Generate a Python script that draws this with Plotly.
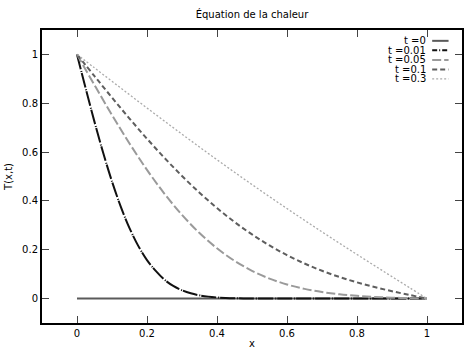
import plotly.graph_objects as go

# ---- data ----
x_main = [0, 0.05, 0.1, 0.15, 0.2, 0.25, 0.3, 0.35, 0.4, 0.45, 0.5,
          0.55, 0.6, 0.65, 0.7, 0.75, 0.8, 0.85, 0.9, 0.95, 1]
x_fine = [0, 0.025, 0.05, 0.075, 0.1, 0.125, 0.15, 0.175, 0.2, 0.225, 0.25,
          0.275, 0.3, 0.325, 0.35, 0.375, 0.4, 0.425, 0.45, 0.475, 0.5,
          0.6, 0.7, 0.8, 0.9, 1]

T_t0 = [0, 0, 0, 0, 0, 0, 0, 0, 0, 0, 0, 0, 0, 0, 0, 0, 0, 0, 0, 0, 0]
T_t001 = [1, 0.8597, 0.7237, 0.5959, 0.4795, 0.3768, 0.2888, 0.2159, 0.1573, 0.1132, 0.0771,
          0.0518, 0.0339, 0.0215, 0.0133, 0.0080, 0.0047, 0.0027, 0.0015, 0.0008, 0.0004,
          0.0, 0.0, 0.0, 0.0, 0.0]
T_t005 = [1, 0.8744, 0.7518, 0.6353, 0.5271, 0.4292, 0.3428, 0.2684, 0.2059, 0.1547, 0.1139,
          0.0820, 0.0578, 0.0398, 0.0268, 0.0176, 0.0113, 0.0069, 0.0039, 0.0018, 0]
T_t01 = [1, 0.9110, 0.8231, 0.7373, 0.6547, 0.5761, 0.5022, 0.4336, 0.3707, 0.3138, 0.2627,
         0.2176, 0.1780, 0.1436, 0.1139, 0.0884, 0.0664, 0.0473, 0.0303, 0.0148, 0]
T_t03 = [1, 0.9448, 0.8898, 0.8350, 0.7806, 0.7267, 0.6733, 0.6206, 0.5686, 0.5174, 0.4670,
         0.4174, 0.3686, 0.3206, 0.2733, 0.2267, 0.1806, 0.1350, 0.0898, 0.0448, 0]

labels = ["t =0", "t =0.01", "t =0.05", "t =0.1", "t =0.3"]
xticks = [0, 0.2, 0.4, 0.6, 0.8, 1]
yticks = [0, 0.2, 0.4, 0.6, 0.8, 1]

series = [
    (x_main, T_t0, "#5a5a5a", "solid", 2),
    (x_fine, T_t001, "#111111", "15px,2px,1px,1px", 2),
    (x_main, T_t005, "#9a9a9a", "9px,3px", 2),
    (x_main, T_t01, "#5e5e5e", "5px,3px", 2),
    (x_main, T_t03, "#ababab", "2px,2px", 1.3),
]

FONT = "DejaVu Sans"
fig = go.Figure()
for (xs, ys, col, dash, w), name in zip(series, labels):
    fig.add_trace(go.Scatter(x=xs, y=ys, mode="lines", name=name,
                             line=dict(color=col, dash=dash, width=w, shape="spline"),
                             showlegend=False))

# gnuplot-style legend: text then sample, top right inside the plot
shapes = []
annotations = []
y0 = 0.963
dy = 0.0325
for i, ((xs, ys, col, dash, w), name) in enumerate(zip(series, labels)):
    yy = y0 - i * dy
    annotations.append(dict(x=0.918, y=yy, xref="paper", yref="paper", text=name,
                            showarrow=False, xanchor="right", yanchor="middle",
                            font=dict(family=FONT, size=10, color="#000")))
    shapes.append(dict(type="line", xref="paper", yref="paper",
                       x0=0.929, x1=0.968, y0=yy, y1=yy,
                       line=dict(color=col, dash=("5px,2px,1px,2px" if i == 1 else dash), width=w)))

fig.update_layout(
    width=464, height=351,
    margin=dict(l=42, r=0, t=30, b=28),
    paper_bgcolor="white", plot_bgcolor="white",
    font=dict(family=FONT, size=10, color="#000"),
    title=dict(text="Équation de la chaleur", x=0.5, xref="paper", y=0.96, yref="container",
               xanchor="center", yanchor="middle", font=dict(family=FONT, size=10)),
    shapes=shapes, annotations=annotations,
)
fig.update_xaxes(range=[-0.1, 1.1], tickvals=xticks, ticktext=[f"{v:g}" for v in xticks],
                 ticks="inside", ticklen=7, tickcolor="#444", tickwidth=1,
                 showline=True, linecolor="#000", linewidth=2, mirror="ticks",
                 showgrid=False, zeroline=False,
                 title=dict(text="x", font=dict(family=FONT, size=10), standoff=2),
                 tickfont=dict(family=FONT, size=10))
fig.update_yaxes(range=[-0.1, 1.1], tickvals=yticks, ticktext=[f"{v:g}" for v in yticks],
                 ticks="inside", ticklen=7, tickcolor="#444", tickwidth=1,
                 showline=True, linecolor="#000", linewidth=2, mirror="ticks",
                 showgrid=False, zeroline=False,
                 title=dict(text="T(x,t)", font=dict(family=FONT, size=10), standoff=8),
                 tickfont=dict(family=FONT, size=10))

fig.write_html("out.html", config={"displayModeBar": False},
               post_script="document.body.style.margin='0';")
